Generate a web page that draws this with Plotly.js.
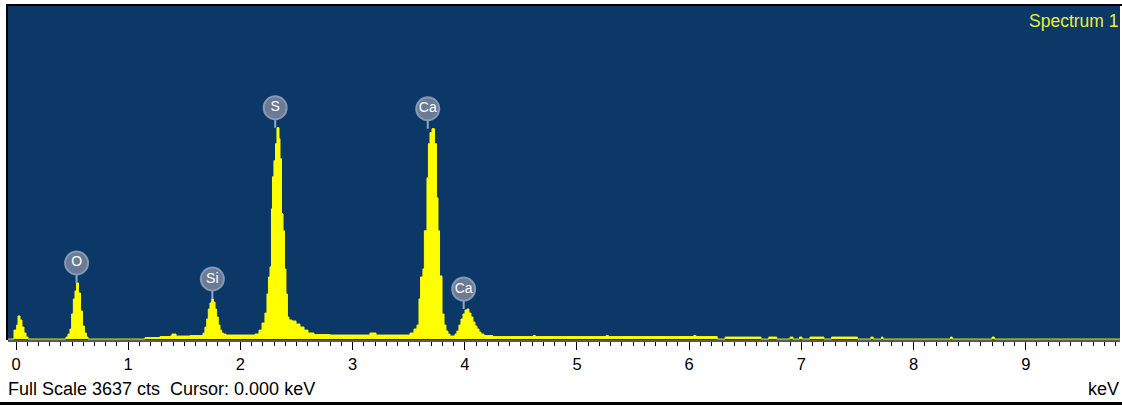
<!DOCTYPE html>
<html>
<head>
<meta charset="utf-8">
<script src="https://cdn.plot.ly/plotly-3.0.1.min.js"></script>
<style>
  html, body { margin:0; padding:0; background:#ffffff; }
  #wrap { position:relative; width:1122px; height:405px; overflow:hidden; }
  #chart { position:absolute; left:0; top:0; width:1122px; height:405px; }
  .frame { position:absolute; background:#000; }
</style>
</head>
<body>
<div id="wrap">
  <div id="chart"></div>
  <div class="frame" style="left:6px; top:4px; width:1116px; height:2px;"></div>
  <div class="frame" style="left:6px; top:4px; width:2px; height:336px;"></div>
  <div class="frame" style="left:0px; top:402px; width:1122px; height:3px;"></div>
</div>
<script>
// ---- data ----
const fullScale = 3637;          // cts
const cursorKeV = "0.000";
const spectrumName = "Spectrum 1";

// step spectrum: left edge of each step (keV) and its counts
const energyKeV = [
  -0.07, -0.018, 0.006, 0.018, 0.036, 0.053, 0.071, 0.089, 0.107,
  0.446, 0.463, 0.481, 0.496, 0.511, 0.526, 0.540, 0.557, 0.575, 0.593, 0.610, 0.628, 0.642,
  1.150, 1.283, 1.373, 1.390, 1.426, 1.551,
  1.667, 1.684, 1.700, 1.714, 1.729, 1.744, 1.759, 1.774, 1.788, 1.803, 1.818, 1.833, 1.848, 1.872,
  2.130, 2.166, 2.193, 2.219, 2.237, 2.250, 2.264, 2.277, 2.286, 2.299, 2.313, 2.326, 2.344, 2.353,
  2.366, 2.380, 2.393, 2.406, 2.419, 2.433, 2.460, 2.496, 2.531, 2.567, 2.602, 2.656, 2.799,
  3.155, 3.209,
  3.512, 3.547, 3.574, 3.592, 3.606, 3.627, 3.640, 3.663, 3.676, 3.690, 3.708, 3.730, 3.748,
  3.761, 3.775, 3.797, 3.815, 3.832, 3.850, 3.868,
  3.913, 3.930, 3.948, 3.966, 3.984, 4.002, 4.020, 4.037, 4.055, 4.073, 4.091, 4.109, 4.127, 4.144, 4.171,
  4.250, 4.610, 4.630, 5.260, 5.280, 6.040, 6.060, 6.250,
  6.320, 6.640, 6.710, 6.780, 6.900, 6.925, 6.984, 7.005, 7.077, 7.201, 7.270, 7.500,
  7.620, 7.640, 7.714, 7.727, 8.330, 8.345, 8.700, 8.720, 9.840
];
const counts = [
  0, 98, 153, 252, 208, 131, 66, 22, 0,
  22, 55, 109, 274, 438, 525, 613, 503, 306, 142, 66, 22, 0,
  16, 27, 33, 55, 33, 38,
  66, 131, 219, 328, 394, 438, 405, 328, 241, 153, 98, 66, 55, 44,
  55, 98, 175, 284, 492, 678, 788, 1422, 1772, 1947, 2133, 2308, 2188, 1969,
  1368, 1182, 766, 492, 241, 208, 197, 164, 131, 98, 66, 49, 44,
  66, 44,
  66, 109, 153, 438, 678, 766, 1182, 1761, 2133, 2254, 2297, 2133, 1543,
  1182, 689, 274, 153, 88, 55, 33,
  55, 88, 153, 219, 274, 317, 328, 284, 241, 186, 142, 109, 77, 55, 38,
  27, 38, 27, 38, 27, 38, 27, 0,
  22, 0, 22, 0, 22, 0, 22, 0, 22, 0, 22, 0,
  22, 0, 22, 0, 22, 0, 22, 0, 0
];

// element labels
const labelNames = ["O", "Si", "S", "Ca", "Ca"];
const labelEnergies = [0.54, 1.75, 2.31, 3.67, 3.99];

const tickVals = [0, 1, 2, 3, 4, 5, 6, 7, 8, 9];
const tickText = ["0", "1", "2", "3", "4", "5", "6", "7", "8", "9"];
const xRange = [-0.0713, 9.84];

// ---- build ----
const labelOffset = 218; // counts above the peak top for the circle centre
const labelY = labelEnergies.map(function (e) {
  let m = 0;
  for (let i = 0; i < energyKeV.length; i++) {
    if (energyKeV[i] >= e - 0.05 && energyKeV[i] <= e + 0.05) m = Math.max(m, counts[i]);
  }
  return m + labelOffset;
});

const spectrum = {
  type: "scatter", mode: "lines",
  x: energyKeV, y: counts,
  line: { shape: "hv", color: "#ffff00", width: 1 },
  fill: "tozeroy", fillcolor: "#ffff00",
  hoverinfo: "skip"
};

const labels = {
  type: "scatter", mode: "markers+text",
  x: labelEnergies, y: labelY,
  text: labelNames, textposition: "middle center",
  textfont: { family: "Liberation Sans, Arial, sans-serif", size: 14, color: "#ffffff" },
  marker: { size: 23, color: "#6b7a95", line: { color: "rgba(140,158,185,0.9)", width: 2 } },
  error_y: { type: "data", symmetric: false, array: labelEnergies.map(function(){return 0;}),
             arrayminus: labelEnergies.map(function(){return labelOffset;}),
             color: "#8fa7c9", thickness: 2, width: 0 },
  hoverinfo: "skip"
};

const fontFam = "Liberation Sans, Arial, sans-serif";
const layout = {
  width: 1122, height: 405,
  margin: { l: 8, r: 2, t: 6, b: 65, pad: 0 },
  paper_bgcolor: "rgba(0,0,0,0)",
  plot_bgcolor: "#0c3868",
  showlegend: false,
  font: { family: fontFam, color: "#000000" },
  xaxis: {
    range: xRange, showgrid: false, zeroline: false,
    showline: true, linecolor: "#5a5a5a", linewidth: 2,
    ticks: "outside", ticklen: 8, tickwidth: 1, tickcolor: "#000000",
    tickvals: tickVals, ticktext: tickText,
    tickfont: { family: fontFam, size: 16.5, color: "#000000" },
    minor: { dtick: 0.1, ticks: "outside", ticklen: 4, tickwidth: 1, tickcolor: "#000000", showgrid: false },
    fixedrange: true
  },
  yaxis: {
    range: [-10, fullScale], visible: false, showgrid: false, zeroline: false, fixedrange: true
  },
  annotations: [
    { xref: "paper", yref: "paper", x: 1, y: 1, xanchor: "right", yanchor: "top",
      xshift: 0, yshift: -3, showarrow: false, text: spectrumName,
      font: { family: fontFam, size: 17.5, color: "#e8f035" } },
    { xref: "paper", yref: "paper", x: 0, y: -0.1407, xanchor: "left", yanchor: "middle",
      xshift: -2, yshift: -2, showarrow: false, text: "Full Scale " + fullScale + " cts\u00a0\u00a0Cursor: " + cursorKeV + " keV",
      font: { family: fontFam, size: 18, color: "#000000" } },
    { xref: "paper", yref: "paper", x: 1, y: -0.1407, xanchor: "right", yanchor: "middle",
      xshift: 1, yshift: -2, showarrow: false, text: "keV",
      font: { family: fontFam, size: 18, color: "#000000" } }
  ]
};

Plotly.newPlot("chart", [spectrum, labels], layout, { staticPlot: true, displayModeBar: false });
</script>
</body>
</html>
